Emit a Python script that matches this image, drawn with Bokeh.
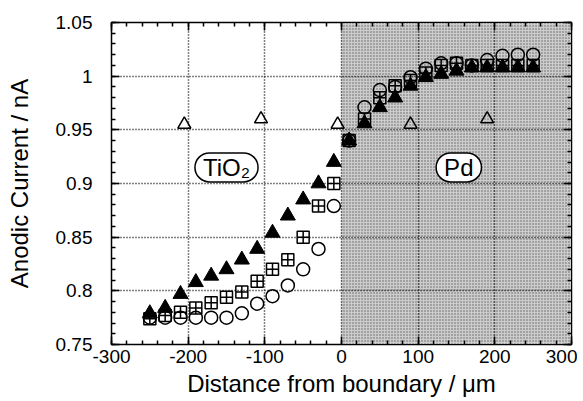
from bokeh.plotting import figure
from bokeh.models import LinearAxis, BoxAnnotation, Label, SingleIntervalTicker, Range1d
from bokeh.embed import file_html
from bokeh.resources import INLINE

# ---- data ----
x_pos = [-250, -230, -210, -190, -170, -150, -130, -110, -90, -70, -50, -30, -10,
         10, 30, 50, 70, 90, 110, 130, 150, 170, 190, 210, 230, 250]
tri_filled = [0.779, 0.784, 0.797, 0.808, 0.814, 0.820, 0.829, 0.839, 0.854, 0.870, 0.885, 0.900, 0.920,
              0.940, 0.956, 0.971, 0.980, 0.991, 0.999, 1.002, 1.005, 1.008, 1.008, 1.008, 1.008, 1.008]
sq_cross = [0.774, 0.777, 0.780, 0.784, 0.789, 0.794, 0.799, 0.809, 0.820, 0.829, 0.850, 0.879, 0.900,
            0.940, 0.960, 0.980, 0.991, 0.996, 1.003, 1.010, 1.012, 1.010, 1.010, 1.010, 1.010, 1.010]
circ = [0.775, 0.775, 0.775, 0.775, 0.775, 0.775, 0.779, 0.788, 0.795, 0.805, 0.820, 0.839, 0.879,
        0.940, 0.971, 0.987, 0.990, 0.999, 1.007, 1.012, 1.012, 1.010, 1.015, 1.019, 1.020, 1.020]
x_open = [-205, -105, -5, 90, 190]
tri_open = [0.955, 0.960, 0.955, 0.955, 0.960]

x_tick_labels = {-300: "-300", -200: "-200", -100: "-100", 0: "0", 100: "100", 200: "200", 300: "300"}
y_tick_labels = {0.75: "0.75", 0.8: "0.8", 0.85: "0.85", 0.9: "0.9", 0.95: "0.95", 1.0: "1", 1.05: "1.05"}

FONT = "Liberation Sans"

p = figure(frame_width=460, frame_height=322, output_backend="svg", toolbar_location=None,
           x_range=Range1d(-300, 300), y_range=Range1d(0.75, 1.05),
           min_border_left=111, min_border_right=6, min_border_top=22, min_border_bottom=50,
           x_axis_label="Distance from boundary / \u03bcm", y_axis_label="Anodic Current / nA")
p.background_fill_color = "white"
p.border_fill_color = "white"
p.outline_line_color = "black"
p.outline_line_width = 1.5

xt = SingleIntervalTicker(interval=100, num_minor_ticks=5)
yt = SingleIntervalTicker(interval=0.05, num_minor_ticks=5)
p.xaxis.ticker = xt
p.yaxis.ticker = yt
p.xaxis.major_label_overrides = x_tick_labels
p.yaxis.major_label_overrides = y_tick_labels

for ax in (p.xaxis[0], p.yaxis[0]):
    ax.major_tick_in = 8
    ax.major_tick_out = 0
    ax.minor_tick_in = 4
    ax.minor_tick_out = 0
    ax.axis_line_color = "black"
    ax.major_tick_line_color = "black"
    ax.minor_tick_line_color = "black"
    ax.major_tick_line_width = 1.5
    ax.minor_tick_line_width = 1.5
    ax.major_label_text_font = FONT
    ax.major_label_text_font_size = "19px"
    ax.major_label_text_color = "black"
    ax.axis_label_text_font = FONT
    ax.axis_label_text_font_size = "24px"
    ax.axis_label_text_font_style = "normal"
    ax.axis_label_text_color = "black"
p.xaxis.major_label_standoff = 5
p.xaxis.axis_label_standoff = 4
p.yaxis.major_label_standoff = 19
p.yaxis.axis_label_standoff = 20

for loc, tk in (("above", xt), ("right", yt)):
    a = LinearAxis(ticker=tk)
    a.major_tick_in = 8
    a.major_tick_out = 0
    a.minor_tick_in = 4
    a.minor_tick_out = 0
    a.major_tick_line_width = 1.5
    a.minor_tick_line_width = 1.5
    a.major_label_text_font_size = "1px"
    a.major_label_text_color = None
    a.major_label_standoff = 0
    a.axis_label = None
    p.add_layout(a, loc)

p.xgrid.ticker = SingleIntervalTicker(interval=100)
p.ygrid.ticker = SingleIntervalTicker(interval=0.05)
p.grid.grid_line_color = "black"
p.grid.grid_line_dash = "1 2"
p.grid.grid_line_width = 1.5
p.grid.level = "underlay"

shade = BoxAnnotation(left=0, right=300, fill_color="#cccccc", fill_alpha=1.0,
                      hatch_pattern="dot", hatch_color="#333333", hatch_scale=3, hatch_alpha=0.7,
                      level="image")
p.add_layout(shade)

p.scatter(x_pos, circ, marker="circle", size=13, fill_color=None,
          line_color="black", line_width=1.5)
p.scatter(x_pos, sq_cross, marker="square_cross", size=12, fill_color=None,
          line_color="black", line_width=1.5)
p.scatter(x_pos, tri_filled, marker="triangle", size=15, fill_color="black",
          line_color="black", line_width=1)
p.scatter(x_open, tri_open, marker="triangle", size=13, fill_color=None,
          line_color="black", line_width=1.5)

for lx, txt in ((-150, "TiO\u2082"), (153, "Pd")):
    p.add_layout(Label(x=lx, y=0.915, text=txt, text_align="center", text_baseline="middle",
                       text_font=FONT, text_font_size="24px", text_color="black",
                       background_fill_color="white", border_line_color="black",
                       border_line_width=1.5, border_radius=15,
                       padding=dict(left=8, right=8, top=1, bottom=1)))

open("out.html", "w").write(file_html(p, INLINE))
